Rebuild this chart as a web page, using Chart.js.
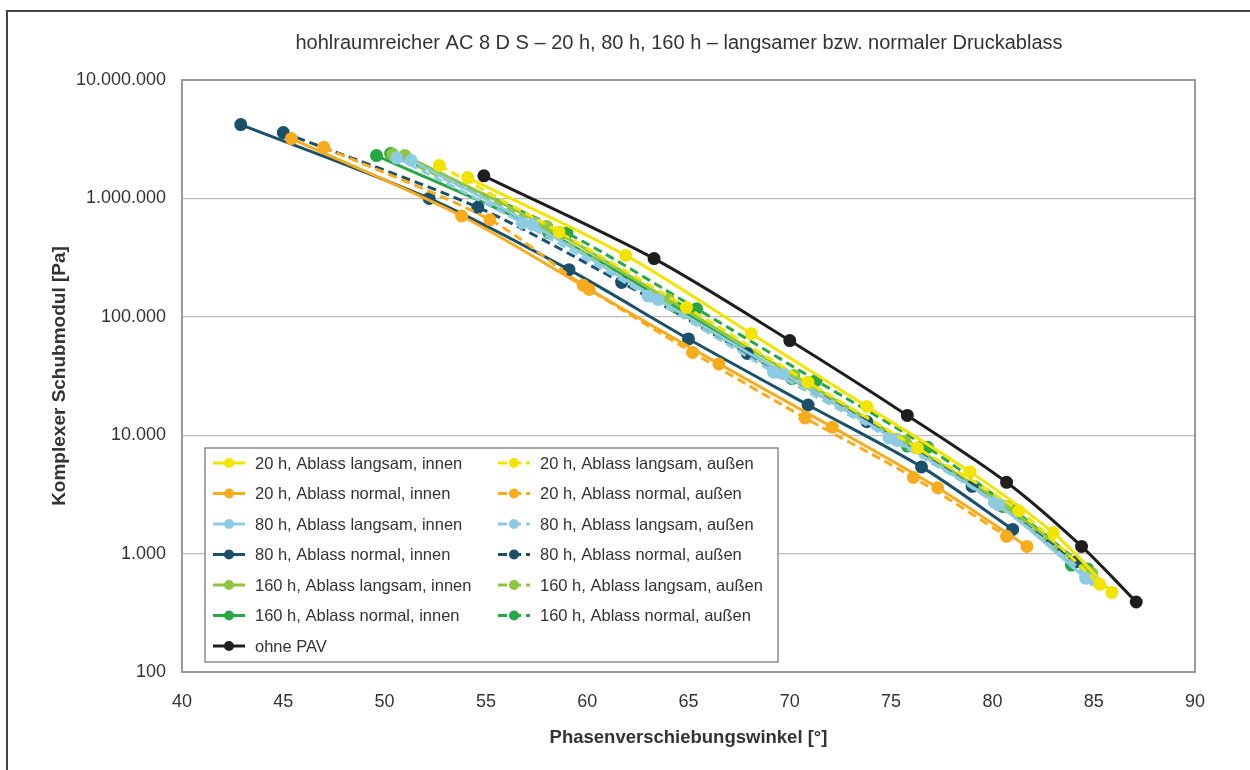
<!DOCTYPE html>
<html lang="de">
<head>
    <meta charset="UTF-8">
    <title>hohlraumreicher AC 8 D S</title>
    <style>
        body {
            margin: 0;
            padding: 0;
            background: #fff;
            font-family: "Liberation Sans", Arial, sans-serif;
        }
        #wrap {
            position: relative;
            width: 1250px;
            height: 770px;
            overflow: hidden;
        }
        #frame {
            position: absolute;
            left: 6px;
            top: 10px;
            width: 1270px;
            height: 790px;
            border: 2px solid #444;
            pointer-events: none;
        }
        canvas {
            position: absolute;
            left: 0;
            top: 0;
        }
    </style>
</head>
<body>
    <div id="wrap">
        <canvas id="chart" width="1250" height="770"></canvas>
        <div id="frame"></div>
    </div>

    <script src="https://cdn.jsdelivr.net/npm/chart.js"></script>
    <script>
        // Daten (Phasenwinkel in °, Schubmodul in Pa)
        const seriesLabels = [
            '20 h, Ablass langsam, innen', '20 h, Ablass langsam, außen',
            '20 h, Ablass normal, innen', '20 h, Ablass normal, außen',
            '80 h, Ablass langsam, innen', '80 h, Ablass langsam, außen',
            '80 h, Ablass normal, innen', '80 h, Ablass normal, außen',
            '160 h, Ablass langsam, innen', '160 h, Ablass langsam, außen',
            '160 h, Ablass normal, innen', '160 h, Ablass normal, außen',
            'ohne PAV'
        ];

        const x20LangInnen = [54.1, 61.9, 68.1, 73.8, 78.9, 83.0, 85.9];
        const y20LangInnen = [1500000, 330000, 72000, 17500, 4900, 1500, 470];
        const x20LangAussen = [52.7, 58.6, 64.9, 70.9, 76.3, 81.3, 85.3];
        const y20LangAussen = [1900000, 520000, 120000, 28000, 7800, 2300, 550];

        const x20NormInnen = [45.4, 53.8, 60.1, 66.5, 72.1, 77.3, 81.7];
        const y20NormInnen = [3200000, 710000, 170000, 40000, 11700, 3600, 1150];
        const x20NormAussen = [47.0, 55.2, 59.8, 65.2, 70.75, 76.1, 80.7];
        const y20NormAussen = [2700000, 660000, 185000, 50000, 14000, 4400, 1400];

        const x80LangInnen = [51.3, 57.3, 63.5, 69.7, 75.3, 80.3, 84.6];
        const y80LangInnen = [2100000, 600000, 140000, 33000, 9000, 2600, 620];
        const x80LangAussen = [50.6, 56.8, 63.0, 69.2, 74.9, 80.1, 85.0];
        const y80LangAussen = [2200000, 620000, 150000, 34000, 9500, 2700, 600];

        const x80NormInnen = [42.9, 52.2, 59.1, 65.0, 70.9, 76.5, 81.0];
        const y80NormInnen = [4200000, 1000000, 250000, 65000, 18000, 5400, 1600];
        const x80NormAussen = [45.0, 54.6, 61.7, 67.9, 73.8, 79.0, 84.1];
        const y80NormAussen = [3600000, 840000, 195000, 49000, 13000, 3700, 850];

        const x160LangInnen = [51.0, 58.0, 64.0, 70.2, 75.7, 80.7, 84.9];
        const y160LangInnen = [2300000, 580000, 140000, 32000, 8800, 2500, 680];
        const x160LangAussen = [50.4, 57.4, 63.2, 69.5, 75.3, 80.3, 84.6];
        const y160LangAussen = [2350000, 620000, 150000, 34000, 9200, 2600, 720];

        const x160NormInnen = [49.6, 58.1, 64.4, 70.1, 75.8, 80.5, 83.9];
        const y160NormInnen = [2300000, 510000, 120000, 30000, 8100, 2500, 800];
        const x160NormAussen = [50.3, 59.0, 65.4, 71.3, 76.8, 81.1, 84.7];
        const y160NormAussen = [2400000, 510000, 117000, 29000, 7900, 2300, 740];

        const xOhnePAV = [54.9, 63.3, 70.0, 75.8, 80.7, 84.4, 87.1];
        const yOhnePAV = [1550000, 310000, 63000, 14700, 4000, 1150, 390];

        const xTicks = [40, 45, 50, 55, 60, 65, 70, 75, 80, 85, 90];
        const yTicks = [100, 1000, 10000, 100000, 1000000, 10000000];

        const seriesX = [x20LangInnen, x20LangAussen, x20NormInnen, x20NormAussen,
            x80LangInnen, x80LangAussen, x80NormInnen, x80NormAussen,
            x160LangInnen, x160LangAussen, x160NormInnen, x160NormAussen, xOhnePAV];
        const seriesY = [y20LangInnen, y20LangAussen, y20NormInnen, y20NormAussen,
            y80LangInnen, y80LangAussen, y80NormInnen, y80NormAussen,
            y160LangInnen, y160LangAussen, y160NormInnen, y160NormAussen, yOhnePAV];

        const colors = ['#f2e400', '#f2e400', '#f8ab1c', '#f8ab1c',
            '#8ccbe2', '#8ccbe2', '#1a506a', '#1a506a',
            '#8dc63f', '#8dc63f', '#27a844', '#27a844', '#1e1e1e'];
        const dashed = [false, true, false, true, false, true, false, true, false, true, false, true, false];

        const FONT = '"Liberation Sans", Arial, sans-serif';

        function fmtDots(v) {
            return String(Math.round(v)).replace(/\B(?=(\d{3})+(?!\d))/g, '.');
        }

        const datasets = seriesLabels.map((label, i) => ({
            label: label,
            data: seriesX[i].map((x, j) => ({ x: x, y: seriesY[i][j] })),
            borderColor: colors[i],
            backgroundColor: colors[i],
            pointBackgroundColor: colors[i],
            pointBorderColor: colors[i],
            borderWidth: 3,
            borderDash: dashed[i] ? [9, 5] : [],
            pointRadius: 5,
            pointHoverRadius: 5,
            tension: 0.3,
            showLine: true,
            fill: false
        }));

        // Titel, Rahmen und Legende im Diagramm
        const extras = {
            id: 'extras',
            beforeDatasetsDraw(chart) {
                const { ctx, chartArea: a } = chart;
                ctx.save();
                ctx.strokeStyle = '#9a9a9a';
                ctx.lineWidth = 2;
                ctx.strokeRect(a.left, a.top, a.right - a.left, a.bottom - a.top);
                ctx.restore();
            },
            afterDatasetsDraw(chart) {
                const { ctx, chartArea: a } = chart;
                ctx.save();
                ctx.fillStyle = '#333';
                ctx.font = '20px ' + FONT;
                ctx.textAlign = 'center';
                ctx.textBaseline = 'middle';
                ctx.fillText('hohlraumreicher AC 8 D S – 20 h, 80 h, 160 h – langsamer bzw. normaler Druckablass', 679, 43);

                const x0 = a.left + 23, y0 = 448, w = 573, h = 214;
                ctx.fillStyle = '#fff';
                ctx.fillRect(x0, y0, w, h);
                ctx.strokeStyle = '#8c8c8c';
                ctx.lineWidth = 1.5;
                ctx.strokeRect(x0, y0, w, h);

                ctx.font = '16.5px ' + FONT;
                ctx.textAlign = 'left';
                chart.data.datasets.forEach((ds, i) => {
                    const col = i % 2, row = Math.floor(i / 2);
                    const cy = y0 + 15 + row * 30.5;
                    const sx = x0 + 8 + col * 285;
                    ctx.strokeStyle = ds.borderColor;
                    ctx.lineWidth = 3;
                    ctx.setLineDash(ds.borderDash);
                    ctx.beginPath();
                    ctx.moveTo(sx, cy);
                    ctx.lineTo(sx + 32, cy);
                    ctx.stroke();
                    ctx.setLineDash([]);
                    ctx.fillStyle = ds.borderColor;
                    ctx.beginPath();
                    ctx.arc(sx + 16, cy, 5, 0, Math.PI * 2);
                    ctx.fill();
                    ctx.fillStyle = '#333';
                    ctx.fillText(ds.label, sx + 42, cy + 1);
                });
                ctx.restore();
            }
        };

        new Chart(document.getElementById('chart'), {
            type: 'scatter',
            data: { datasets: datasets },
            plugins: [extras],
            options: {
                responsive: false,
                animation: false,
                layout: { padding: { left: 44, right: 55, top: 80, bottom: 10 } },
                plugins: {
                    legend: { display: false },
                    tooltip: { enabled: false }
                },
                scales: {
                    x: {
                        type: 'linear',
                        min: 40,
                        max: 90,
                        afterBuildTicks: s => { s.ticks = xTicks.map(v => ({ value: v })); },
                        afterFit: s => { s.height = 88; },
                        grid: { display: false, drawTicks: false },
                        border: { display: false },
                        ticks: {
                            padding: 19,
                            color: '#333',
                            font: { family: FONT, size: 18 },
                            maxRotation: 0
                        },
                        title: {
                            display: true,
                            text: 'Phasenverschiebungswinkel [°]',
                            color: '#333',
                            font: { family: FONT, size: 18.5, weight: 'bold' },
                            padding: { top: 4, bottom: 11 }
                        }
                    },
                    y: {
                        type: 'logarithmic',
                        min: 100,
                        max: 10000000,
                        afterBuildTicks: s => { s.ticks = yTicks.map(v => ({ value: v })); },
                        afterFit: s => { s.width = 138; },
                        grid: { color: '#bdbdbd', lineWidth: 1.2, drawTicks: false },
                        border: { display: false },
                        ticks: {
                            padding: 16,
                            color: '#333',
                            font: { family: FONT, size: 18 },
                            callback: v => fmtDots(v)
                        },
                        title: {
                            display: true,
                            text: 'Komplexer Schubmodul [Pa]',
                            color: '#333',
                            font: { family: FONT, size: 19, weight: 'bold' },
                            padding: { top: 4, bottom: 4 }
                        }
                    }
                }
            }
        });
    </script>
</body>
</html>
